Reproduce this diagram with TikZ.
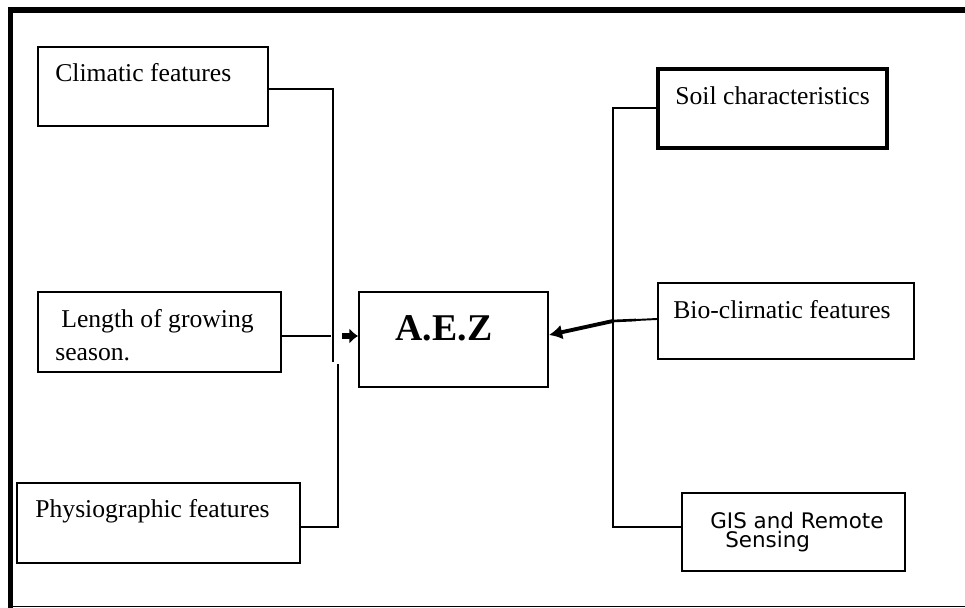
\documentclass[tikz,border=0pt]{standalone}
\usepackage{fontspec}
\setmainfont{Liberation Serif}
\newfontfamily\gisfont{DejaVu Sans}
\usetikzlibrary{arrows.meta,fit}
\tikzset{
  box/.style={draw, line width=1.1pt, inner sep=0pt, rectangle},
  thickbox/.style={box, line width=2pt},
  lbl/.style={inner sep=0pt, anchor=base west, font=\fontsize{14.6}{17}\selectfont},
  link/.style={line width=1.1pt},
  trunk/.style={line width=1.5pt},
  feedl/.style={line width=3pt, -{Latex[length=5pt,width=9pt]}},
  feedr/.style={line width=2.2pt, -{Latex[length=7.5pt,width=8.5pt]}},
  frame/.style={line width=3.4pt}
}
\begin{document}
\begin{tikzpicture}[x=0.02cm,y=-0.02cm]
  \useasboundingbox (0,0) rectangle (965,608);
  % page frame
  \draw[frame] (965,10) -- (10.5,10) -- (10.5,608);
  \draw[line width=1pt] (10.5,606.5) -- (965,606.5);

  % factor boxes on the left
  \node[box, fit={(38,47) (268,126)}] (clim) {};
  \node[lbl] (climt) at (55,82) {Climatic features};
  \node[box, fit={(38,292) (281,372)}] (len) {};
  \node[lbl] (lent1) at (61,328) {Length of growing};
  \node[lbl] (lent2) at (55,360) {season.};
  \node[box, fit={(17,483) (300,563)}] (phys) {};
  \node[lbl] (physt) at (35,518) {Physiographic features};

  % central box
  \node[box, fit={(359,292) (548,387)}] (aez) {};
  \node[inner sep=0pt, font=\fontsize{21.5}{24}\selectfont\bfseries] (aezt) at (444,328) {A.E.Z};

  % factor boxes on the right
  \node[thickbox, fit={(658,69) (887,148)}] (soil) {};
  \node[lbl] (soilt) at (675,105) {Soil characteristics};
  \node[box, fit={(658,283) (914,359)}] (bio) {};
  \node[lbl] (biot) at (673,318) {Bio-clirnatic features};
  \node[box, fit={(682,493) (905,571)}] (gis) {};
  \node[inner sep=0pt, anchor=base west, font=\gisfont\fontsize{12.2}{14}\selectfont] (gist1) at (710,528) {GIS and Remote};
  \node[inner sep=0pt, anchor=base west, font=\gisfont\fontsize{12.2}{14}\selectfont] (gist2) at (725,547) {Sensing};

  % left collector (upper and lower runs, slightly offset)
  \coordinate (ltop) at (333,89);
  \coordinate (lbreak) at (333,362);
  \coordinate (lresume) at (338,364);
  \coordinate (lbot) at (338,527);
  \coordinate (lmid) at (331,336);
  \coordinate (ltail) at (342,336);
  \draw[link] (clim.east |- ltop) -- (ltop) -- (lbreak);
  \draw[link] (phys.east |- lbot) -- (lbot) -- (lresume);
  \draw[link] (len.east |- lmid) -- (lmid);
  \draw[feedl] (ltail) -- (aez.west |- ltail);

  % right collector
  \coordinate (rtop) at (613,108);
  \coordinate (rbot) at (613,527);
  \coordinate (rmid) at (613,321);
  \coordinate (rjog) at (636,320);
  \draw[trunk] (soil.west |- rtop) -- (rtop) -- (rbot) -- (gis.west |- rbot);
  \draw[link] (bio.west |- 0,319) -- (rjog);
  \draw[trunk] (rjog) -- (rmid);
  \draw[feedr] (rmid) -- (aez.east |- 0,335);
\end{tikzpicture}
\end{document}
